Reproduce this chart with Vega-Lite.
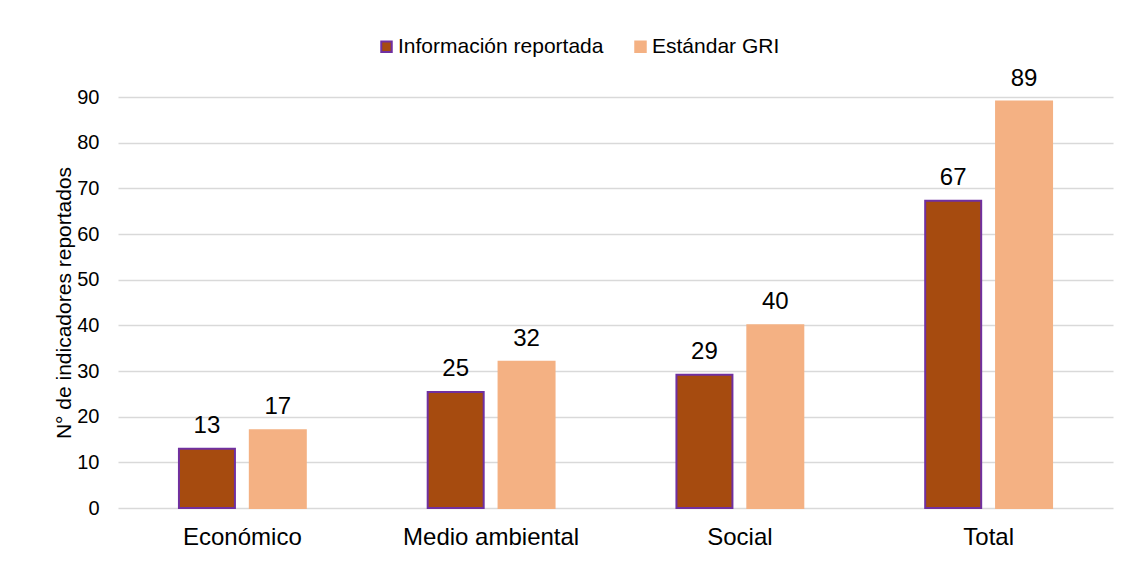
{
  "$schema": "https://vega.github.io/schema/vega-lite/v6.json",
  "width": 995,
  "height": 411,
  "autosize": {"type": "none"},
  "padding": {"left": 118, "top": 97, "right": 15, "bottom": 54},
  "background": "white",
  "data": {
    "values": [
      {"categoria": "Económico", "serie": "Información reportada", "valor": 13},
      {"categoria": "Económico", "serie": "Estándar GRI", "valor": 17},
      {"categoria": "Medio ambiental", "serie": "Información reportada", "valor": 25.4},
      {"categoria": "Medio ambiental", "serie": "Estándar GRI", "valor": 32},
      {"categoria": "Social", "serie": "Información reportada", "valor": 29.2},
      {"categoria": "Social", "serie": "Estándar GRI", "valor": 40},
      {"categoria": "Total", "serie": "Información reportada", "valor": 67.3},
      {"categoria": "Total", "serie": "Estándar GRI", "valor": 89}
    ]
  },
  "encoding": {
    "x": {
      "field": "categoria",
      "type": "nominal",
      "sort": ["Económico", "Medio ambiental", "Social", "Total"],
      "scale": {"paddingInner": 0.49, "paddingOuter": 0.245},
      "axis": {"title": null, "labelAngle": 0, "labelFontSize": 24, "labelPadding": 17, "ticks": false, "domain": false, "labelColor": "#000000"}
    },
    "xOffset": {
      "field": "serie",
      "type": "nominal",
      "sort": ["Información reportada", "Estándar GRI"],
      "scale": {"paddingInner": 0.21, "paddingOuter": 0}
    },
    "y": {
      "field": "valor",
      "type": "quantitative",
      "scale": {"domain": [0, 90]},
      "axis": {
        "title": "N° de indicadores reportados",
        "titleFontSize": 21,
        "titleFontWeight": "normal",
        "titleColor": "#000000",
        "titlePadding": 2,
        "labelFontSize": 20,
        "labelColor": "#000000",
        "labelPadding": 19,
        "ticks": false,
        "domain": false,
        "values": [0, 10, 20, 30, 40, 50, 60, 70, 80, 90],
        "gridColor": "#D9D9D9",
        "gridWidth": 1.5
      }
    }
  },
  "layer": [
    {
      "mark": {"type": "bar", "strokeWidth": 2},
      "encoding": {
        "fill": {
          "field": "serie",
          "type": "nominal",
          "scale": {"domain": ["Información reportada", "Estándar GRI"], "range": ["#A64B0F", "#F4B183"]},
          "legend": {
            "orient": "none",
            "legendX": 258,
            "legendY": -61,
            "direction": "horizontal",
            "title": null,
            "labelFontSize": 21,
            "labelLimit": 400,
            "labelColor": "#000000",
            "symbolType": "square",
            "symbolSize": 110,
            "symbolStrokeWidth": 2,
            "labelOffset": 1,
            "columnPadding": 26
          }
        },
        "stroke": {
          "field": "serie",
          "type": "nominal",
          "scale": {"domain": ["Información reportada", "Estándar GRI"], "range": ["#7030A0", "#F4B183"]},
          "legend": {
            "orient": "none",
            "legendX": 258,
            "legendY": -61,
            "direction": "horizontal",
            "title": null,
            "labelFontSize": 21,
            "labelLimit": 400,
            "labelColor": "#000000",
            "symbolType": "square",
            "symbolSize": 110,
            "symbolStrokeWidth": 2,
            "labelOffset": 1,
            "columnPadding": 26
          }
        }
      }
    },
    {
      "mark": {"type": "text", "baseline": "alphabetic", "dy": -16, "fontSize": 24, "color": "#000000"},
      "encoding": {
        "text": {"field": "valor", "type": "quantitative", "format": ".0f"}
      }
    }
  ],
  "config": {
    "font": "Liberation Sans",
    "view": {"stroke": null}
  }
}
